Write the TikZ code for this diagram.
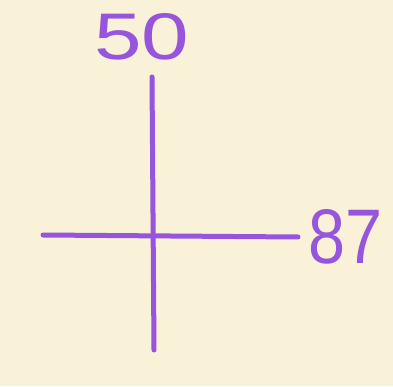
\documentclass[tikz,border=0pt]{standalone}
\usepackage{fontspec}
\setmainfont{Liberation Sans}
\definecolor{paper}{RGB}{249,241,216}
\definecolor{ink}{RGB}{150,85,220}
\tikzset{stroke/.style={draw=ink,line width=5pt,line cap=round},
  lbl/.style={text=ink,inner sep=0pt,anchor=center}}
\begin{document}
\begin{tikzpicture}[x=1pt,y=1pt]
\fill[paper] (0,0) rectangle (393,386);
\useasboundingbox (0,0) rectangle (393,386);
\coordinate (vtop) at (152,309);
\coordinate (vbot) at (154,36);
\coordinate (hl) at (43,151);
\coordinate (hr) at (298,149);
\draw[stroke] (vtop) -- (vbot);
\draw[stroke] (hl) -- (hr);
\node[lbl] (fifty) at (142,349) {\resizebox{95pt}{46pt}{50}};
\node[lbl] (eightyseven) at (346,149) {\resizebox{74pt}{54pt}{87}};
\end{tikzpicture}
\end{document}
